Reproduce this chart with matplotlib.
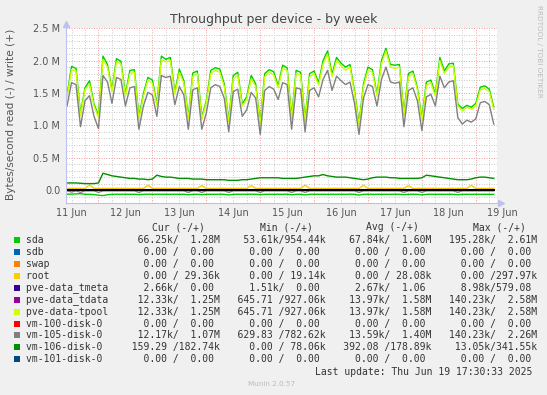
import matplotlib
matplotlib.use("Agg")
import matplotlib.pyplot as plt
from matplotlib.patches import Rectangle
from matplotlib.transforms import blended_transform_factory
import numpy as np

W, H = 547, 395

# one sample every 2 hours, hours counted from 11 Jun 00:00
hours = 10 + 2 * np.arange(96)

# write (+) values, in MB/s
tpool_write = np.array([
    1.44, 1.86, 1.84, 1.15, 1.55, 1.64, 1.30, 1.12, 2.02, 1.90,
    1.52, 1.98, 1.95, 1.45, 1.80, 1.82, 1.10, 1.45, 1.70, 1.65,
    1.30, 2.02, 1.98, 2.00, 1.48, 1.82, 1.65, 1.10, 1.76, 1.80,
    1.10, 1.35, 1.80, 1.85, 1.82, 1.60, 1.05, 1.72, 1.78, 1.30,
    1.40, 1.72, 1.60, 1.00, 1.75, 1.82, 1.78, 1.58, 1.88, 1.85,
    1.10, 1.80, 1.78, 1.05, 1.75, 1.80, 1.62, 1.95, 2.10, 1.75,
    2.00, 1.92, 1.85, 1.90, 1.50, 1.00, 1.60, 1.85, 1.82, 1.45,
    1.95, 2.15, 1.90, 1.88, 1.90, 1.15, 1.75, 1.80, 1.55, 1.08,
    1.62, 1.66, 1.45, 2.00, 1.80, 1.90, 1.92, 1.30, 1.22, 1.28,
    1.25, 1.30, 1.55, 1.57, 1.52, 1.25])

sda_write = np.array([
    1.47, 1.91, 1.88, 1.18, 1.58, 1.69, 1.33, 1.15, 2.07, 1.94,
    1.55, 2.03, 1.99, 1.48, 1.85, 1.86, 1.13, 1.49, 1.74, 1.70,
    1.33, 2.07, 2.02, 2.05, 1.51, 1.87, 1.69, 1.13, 1.81, 1.84,
    1.13, 1.38, 1.85, 1.89, 1.87, 1.64, 1.08, 1.77, 1.82, 1.33,
    1.44, 1.77, 1.64, 1.03, 1.80, 1.86, 1.83, 1.61, 1.93, 1.89,
    1.13, 1.85, 1.82, 1.08, 1.80, 1.84, 1.66, 2.00, 2.15, 1.79,
    2.05, 1.96, 1.90, 1.94, 1.53, 1.03, 1.64, 1.90, 1.86, 1.48,
    2.00, 2.19, 1.94, 1.93, 1.94, 1.18, 1.80, 1.84, 1.58, 1.11,
    1.67, 1.70, 1.48, 2.05, 1.84, 1.95, 1.96, 1.33, 1.26, 1.31,
    1.28, 1.34, 1.59, 1.61, 1.56, 1.28])

vm105_write = np.array([
    1.30, 1.66, 1.63, 0.98, 1.38, 1.46, 1.14, 0.95, 1.77, 1.67,
    1.34, 1.74, 1.71, 1.30, 1.58, 1.60, 0.94, 1.30, 1.51, 1.47,
    1.14, 1.77, 1.74, 1.76, 1.32, 1.60, 1.47, 0.94, 1.55, 1.58,
    0.94, 1.19, 1.58, 1.63, 1.60, 1.42, 0.90, 1.52, 1.56, 1.14,
    1.24, 1.51, 1.42, 0.86, 1.54, 1.60, 1.56, 1.40, 1.66, 1.63,
    0.94, 1.58, 1.56, 0.90, 1.54, 1.58, 1.44, 1.71, 1.85, 1.54,
    1.76, 1.69, 1.63, 1.67, 1.34, 0.86, 1.42, 1.63, 1.60, 1.30,
    1.71, 1.90, 1.67, 1.65, 1.67, 0.98, 1.54, 1.58, 1.38, 0.92,
    1.44, 1.48, 1.30, 1.76, 1.58, 1.67, 1.69, 1.12, 1.02, 1.08,
    1.05, 1.10, 1.35, 1.37, 1.32, 1.02])

vm106_write = np.array([
    0.11, 0.11, 0.11, 0.105, 0.10, 0.10, 0.10, 0.11, 0.26, 0.24,
    0.22, 0.21, 0.20, 0.19, 0.18, 0.18, 0.17, 0.17, 0.16, 0.17,
    0.23, 0.21, 0.20, 0.20, 0.19, 0.18, 0.18, 0.18, 0.17, 0.17,
    0.17, 0.16, 0.16, 0.16, 0.16, 0.16, 0.15, 0.15, 0.15, 0.16,
    0.16, 0.17, 0.18, 0.19, 0.19, 0.19, 0.19, 0.19, 0.18, 0.18,
    0.18, 0.18, 0.19, 0.20, 0.21, 0.22, 0.22, 0.24, 0.22, 0.21,
    0.20, 0.20, 0.20, 0.19, 0.18, 0.17, 0.16, 0.17, 0.19, 0.20,
    0.20, 0.20, 0.19, 0.19, 0.18, 0.18, 0.18, 0.18, 0.18, 0.19,
    0.23, 0.22, 0.21, 0.20, 0.19, 0.18, 0.17, 0.16, 0.16, 0.16,
    0.17, 0.19, 0.20, 0.20, 0.19, 0.18])

root_write = np.array([
    0.026, 0.026, 0.026, 0.026, 0.026, 0.080, 0.026, 0.026, 0.026, 0.026,
    0.026, 0.026, 0.026, 0.026, 0.026, 0.026, 0.026, 0.026, 0.075, 0.026,
    0.026, 0.026, 0.026, 0.026, 0.026, 0.026, 0.026, 0.026, 0.026, 0.026,
    0.070, 0.026, 0.026, 0.026, 0.026, 0.026, 0.026, 0.026, 0.026, 0.026,
    0.026, 0.070, 0.026, 0.026, 0.026, 0.026, 0.026, 0.026, 0.026, 0.026,
    0.026, 0.026, 0.026, 0.075, 0.026, 0.026, 0.026, 0.026, 0.026, 0.026,
    0.026, 0.026, 0.026, 0.026, 0.026, 0.026, 0.075, 0.026, 0.026, 0.026,
    0.026, 0.026, 0.026, 0.026, 0.026, 0.026, 0.070, 0.026, 0.026, 0.026,
    0.026, 0.026, 0.026, 0.026, 0.026, 0.026, 0.026, 0.026, 0.026, 0.026,
    0.075, 0.026, 0.026, 0.026, 0.026, 0.026])

# read (-) values, in MB/s (drawn below zero)
sda_read = np.array([
    0.065, 0.062, 0.060, 0.055, 0.065, 0.066, 0.070, 0.080, 0.085, 0.072,
    0.066, 0.065, 0.066, 0.064, 0.066, 0.065, 0.070, 0.066, 0.064, 0.066,
    0.065, 0.066, 0.065, 0.066, 0.064, 0.066, 0.065, 0.072, 0.066, 0.065,
    0.070, 0.066, 0.065, 0.066, 0.064, 0.066, 0.075, 0.066, 0.065, 0.066,
    0.065, 0.064, 0.066, 0.070, 0.066, 0.065, 0.066, 0.065, 0.066, 0.064,
    0.072, 0.066, 0.065, 0.075, 0.066, 0.065, 0.066, 0.065, 0.066, 0.065,
    0.066, 0.065, 0.066, 0.064, 0.066, 0.078, 0.066, 0.065, 0.066, 0.065,
    0.066, 0.065, 0.066, 0.064, 0.066, 0.070, 0.066, 0.065, 0.066, 0.075,
    0.066, 0.065, 0.066, 0.065, 0.066, 0.065, 0.066, 0.072, 0.066, 0.065,
    0.066, 0.065, 0.066, 0.065, 0.066, 0.066])

vm105_read = np.array([
    0.012, 0.030, 0.012, 0.035, 0.012, 0.012, 0.012, 0.035, 0.012, 0.012,
    0.012, 0.012, 0.012, 0.012, 0.012, 0.012, 0.035, 0.012, 0.012, 0.012,
    0.012, 0.012, 0.012, 0.012, 0.012, 0.012, 0.012, 0.035, 0.012, 0.012,
    0.035, 0.012, 0.012, 0.012, 0.012, 0.012, 0.035, 0.012, 0.012, 0.012,
    0.012, 0.012, 0.012, 0.035, 0.012, 0.012, 0.012, 0.012, 0.012, 0.012,
    0.035, 0.012, 0.012, 0.035, 0.012, 0.012, 0.012, 0.012, 0.012, 0.012,
    0.012, 0.012, 0.012, 0.012, 0.012, 0.035, 0.012, 0.012, 0.012, 0.012,
    0.012, 0.012, 0.012, 0.012, 0.012, 0.035, 0.012, 0.012, 0.012, 0.035,
    0.012, 0.012, 0.012, 0.012, 0.012, 0.012, 0.012, 0.035, 0.012, 0.012,
    0.012, 0.012, 0.012, 0.012, 0.012, 0.012])

# vm-101 reads and writes nothing all week (0.00 in the legend)
vm101_write = np.zeros(len(hours))

day_labels = ["11 Jun", "12 Jun", "13 Jun", "14 Jun", "15 Jun",
              "16 Jun", "17 Jun", "18 Jun", "19 Jun"]
y_ticks = [0.0, 0.5, 1.0, 1.5, 2.0, 2.5]
y_tick_labels = ["0.0", "0.5 M", "1.0 M", "1.5 M", "2.0 M", "2.5 M"]

legend_names = ["sda", "sdb", "swap", "root", "pve-data_tmeta",
                "pve-data_tdata", "pve-data-tpool", "vm-100-disk-0",
                "vm-105-disk-0", "vm-106-disk-0", "vm-101-disk-0"]
legend_colors = ["#00CC00", "#0066B3", "#FF8000", "#FFCC00", "#330099",
                 "#990099", "#CCFF00", "#FF0000", "#808080", "#008F00",
                 "#00487D"]
cur_vals = [" 66.25k/  1.28M", "  0.00 /  0.00 ", "  0.00 /  0.00 ",
            "  0.00 / 29.36k", "  2.66k/  0.00 ", " 12.33k/  1.25M",
            " 12.33k/  1.25M", "  0.00 /  0.00 ", " 12.17k/  1.07M",
            "159.29 /182.74k", "  0.00 /  0.00 "]
min_vals = [" 53.61k/954.44k", "  0.00 /  0.00 ", "  0.00 /  0.00 ",
            "  0.00 / 19.14k", "  1.51k/  0.00 ", "645.71 /927.06k",
            "645.71 /927.06k", "  0.00 /  0.00 ", "629.83 /782.62k",
            "  0.00 / 78.06k", "  0.00 /  0.00 "]
avg_vals = [" 67.84k/  1.60M", "  0.00 /  0.00 ", "  0.00 /  0.00 ",
            "  0.00 / 28.08k", "  2.67k/  1.06 ", " 13.97k/  1.58M",
            " 13.97k/  1.58M", "  0.00 /  0.00 ", " 13.59k/  1.40M",
            "392.08 /178.89k", "  0.00 /  0.00 "]
max_vals = ["195.28k/  2.61M", "  0.00 /  0.00 ", "  0.00 /  0.00 ",
            "  0.00 /297.97k", "  8.98k/579.08 ", "140.23k/  2.58M",
            "140.23k/  2.58M", "  0.00 /  0.00 ", "140.23k/  2.26M",
            " 13.05k/341.55k", "  0.00 /  0.00 "]


def fx(px):
    return px / W


def fy(py):
    return 1 - py / H


fig = plt.figure(figsize=(W / 100, H / 100), dpi=100, facecolor="#F0F0F0")
ax = fig.add_axes([fx(65.7), fy(203), (496.9 - 65.7) / W, (203 - 28.3) / H])
ax.set_facecolor("white")

# grid: red dotted on days / 0.5M, grey dotted on 6 h / 0.1M
ax.set_xlim(9.4, 201.4)
ax.set_ylim(-0.2e6, 2.5e6)
ax.set_xticks(np.arange(24, 202, 24))
ax.set_xticks(np.arange(12, 202, 6), minor=True)
ax.set_yticks(np.array(y_ticks) * 1e6, y_tick_labels)
ax.set_yticks(np.arange(-0.1, 2.45, 0.1) * 1e6, minor=True)
ax.tick_params(axis="x", which="both", length=0, labelbottom=False)
ax.tick_params(axis="y", which="both", length=0, labelsize=7,
               labelcolor="#555555", pad=4)
ax.grid(which="minor", color="#CCCCCC", lw=0.72, ls=(0, (1, 1.5)))
ax.grid(which="major", color="#F0A0A0", lw=0.72, ls=(0, (1, 1.5)))
ax.set_axisbelow(True)

for s in ("top", "right"):
    ax.spines[s].set_visible(False)
for s in ("left", "bottom"):
    ax.spines[s].set_color("#C0C0F0")
    ax.spines[s].set_linewidth(0.8)
ax.plot([0], [1.025], marker="^", ms=4, color="#C0C0F0",
        transform=ax.transAxes, clip_on=False)
ax.plot([1.01], [0], marker=">", ms=4, color="#C0C0F0",
        transform=ax.transAxes, clip_on=False)

lw = 1.0
ax.plot(hours, -sda_read * 1e6, color="#00CC00", lw=lw)
ax.plot(hours, sda_write * 1e6, color="#00CC00", lw=lw)
ax.plot(hours, root_write * 1e6, color="#FFCC00", lw=lw)
ax.plot(hours, tpool_write * 1e6, color="#CCFF00", lw=lw)
ax.plot(hours, -vm105_read * 1e6, color="#808080", lw=lw)
ax.plot(hours, vm105_write * 1e6, color="#808080", lw=lw)
ax.plot(hours, vm106_write * 1e6, color="#008F00", lw=lw)
ax.plot(hours, vm101_write, color="black", lw=1.5)

tr = blended_transform_factory(ax.transData, ax.transAxes)
for i, lab in enumerate(day_labels):
    ax.text(12 + 24 * i, -0.059, lab, transform=tr, ha="center",
            va="center", fontsize=7, color="#555555", clip_on=False)

fig.text(fx(273.5), fy(20), "Throughput per device - by week",
         ha="center", va="center", fontsize=9.0, color="#444444")
fig.text(fx(11), fy(114), "Bytes/second read (-) / write (+)",
         rotation=90, ha="center", va="center", fontsize=7.6,
         color="#555555")
fig.text(fx(539), fy(5), "RRDTOOL / TOBI OETIKER", rotation=270,
         ha="center", va="top", fontsize=5.2, color="#BBBBBB")

mono = "DejaVu Sans Mono"
fs = 7.05
for cx, head in zip([178, 286, 392.5, 499],
                    ["Cur (-/+)", "Min (-/+)", "Avg (-/+)", "Max (-/+)"]):
    fig.text(fx(cx), fy(227.3), head, ha="center", va="center",
             family=mono, fontsize=fs, color="#333333")

for i, name in enumerate(legend_names):
    yc = 240 + 11.93 * i
    fig.patches.append(Rectangle((fx(14), fy(yc + 3)), 6 / W, 6 / H,
                                 transform=fig.transFigure,
                                 facecolor=legend_colors[i], edgecolor="none"))
    row = (name.ljust(18) + cur_vals[i] + "   " + min_vals[i] + "   "
           + avg_vals[i] + "   " + max_vals[i])
    fig.text(fx(26.5), fy(yc), row, ha="left", va="center",
             family=mono, fontsize=fs, color="#333333")

fig.text(fx(532.7), fy(372.3), "Last update: Thu Jun 19 17:30:33 2025",
         ha="right", va="center", family=mono, fontsize=fs, color="#333333")
fig.text(fx(272), fy(384), "Munin 2.0.57", ha="center", va="center",
         fontsize=5.2, color="#BBBBBB")

fig.savefig("out.png", dpi=100, facecolor=fig.get_facecolor())
